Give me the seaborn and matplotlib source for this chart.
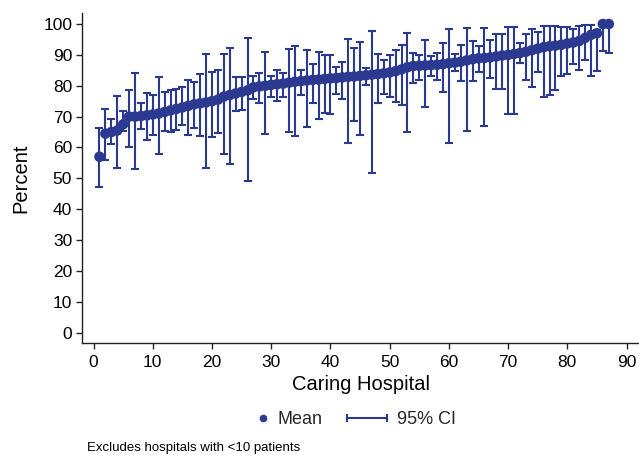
import numpy as np
import pandas as pd
import matplotlib
matplotlib.use("Agg")
import matplotlib.pyplot as plt
import seaborn as sns
from matplotlib.lines import Line2D
from matplotlib.legend_handler import HandlerLine2D

# ---------------- data ----------------
hospital = list(range(1, 88))

means = [57.0, 64.5, 65.0, 65.5, 67.5, 70.0, 70.0, 70.2, 70.4, 70.7,
         71.0, 71.5, 72.0, 72.5, 73.0, 73.5, 74.0, 74.3, 74.6, 75.0,
         75.5, 76.5, 77.0, 77.5, 78.0, 78.5, 79.5, 79.8, 80.0, 80.3,
         80.5, 80.7, 81.0, 81.3, 81.5, 81.7, 81.9, 82.0, 82.2, 82.4,
         82.5, 82.7, 82.9, 83.0, 83.2, 83.4, 83.6, 83.8, 84.0, 84.3,
         84.7, 85.3, 86.0, 86.4, 86.5, 86.6, 86.7, 86.8, 87.0, 87.3,
         87.5, 87.8, 88.2, 88.6, 88.9, 89.0, 89.2, 89.5, 89.8, 90.0,
         90.3, 90.6, 91.0, 91.5, 92.0, 92.5, 92.8, 93.0, 93.3, 93.7,
         94.0, 94.5, 95.5, 96.5, 97.0, 100.0, 100.0]

ci_lower = [47.1, 56.1, 61.0, 53.5, 65.4, 60.2, 53.0, 66.0, 62.5, 64.2,
            57.8, 65.3, 65.0, 65.6, 67.2, 64.2, 66.3, 63.7, 53.4, 63.4,
            64.8, 57.8, 54.8, 71.7, 72.0, 49.2, 75.6, 74.4, 64.3, 76.3,
            75.0, 76.3, 65.0, 63.6, 76.9, 66.7, 74.4, 69.1, 71.3, 71.0,
            77.2, 75.6, 61.3, 68.6, 64.2, 80.3, 51.6, 74.5, 77.4, 76.3,
            74.7, 73.9, 65.0, 81.0, 82.0, 73.1, 83.1, 82.0, 78.0, 61.6,
            84.7, 81.4, 65.3, 81.4, 84.4, 66.9, 82.5, 79.0, 79.0, 70.7,
            70.7, 87.4, 81.9, 79.6, 84.6, 76.5, 77.1, 78.5, 83.3, 83.9,
            87.1, 85.2, 88.5, 83.3, 84.7, 91.4, 90.5]

ci_upper = [66.3, 72.5, 69.3, 76.7, 71.8, 78.7, 84.2, 74.4, 77.6, 77.1,
            82.7, 78.0, 78.7, 79.0, 79.6, 81.9, 81.2, 83.9, 90.3, 84.4,
            85.0, 90.3, 92.1, 82.8, 82.8, 95.4, 83.3, 84.1, 90.9, 83.3,
            85.0, 84.1, 91.9, 92.8, 85.0, 91.6, 87.1, 90.9, 90.1, 90.1,
            86.0, 87.6, 95.0, 92.1, 94.3, 85.8, 97.8, 90.3, 88.5, 90.0,
            91.7, 93.2, 97.1, 90.6, 90.0, 94.9, 89.6, 90.6, 93.8, 98.4,
            90.3, 93.2, 98.6, 94.4, 93.0, 98.7, 94.9, 96.8, 96.8, 98.9,
            98.9, 93.8, 96.8, 98.4, 97.3, 99.2, 99.2, 99.2, 98.9, 98.9,
            98.4, 99.5, 99.7, 99.7, 98.1, 100.0, 100.0]

x_ticks = list(range(0, 91, 10))
y_ticks = list(range(0, 101, 10))

x_label = "Caring Hospital"
y_label = "Percent"
legend_labels = ["Mean", "95% CI"]
footnote = "Excludes hospitals with <10 patients"

df = pd.DataFrame({"hospital": hospital, "mean": means,
                   "lo": ci_lower, "hi": ci_upper})

# ---------------- style ----------------
sns.set_style("ticks")
plt.rcParams["font.family"] = ["Liberation Sans", "DejaVu Sans"]
NAVY = "#2b3990"

fig = plt.figure(figsize=(6.39, 4.55), dpi=100)
ax = fig.add_axes([82.3 / 639, (455 - 342.7) / 455,
                   (639 - 82.3) / 639, (342.7 - 13.3) / 455])

yerr = np.vstack([df["mean"] - df["lo"], df["hi"] - df["mean"]])
ax.errorbar(df["hospital"], df["mean"], yerr=yerr, fmt="none",
            ecolor=NAVY, elinewidth=1.5, capsize=3.2, capthick=1.5, zorder=2)
sns.scatterplot(data=df, x="hospital", y="mean", ax=ax, color=NAVY,
                s=58, edgecolor="none", linewidth=0, zorder=3, legend=False)

ax.set_xlim(-1.9, 92.1)
ax.set_ylim(-3.24, 103.47)
ax.set_xticks(x_ticks)
ax.set_yticks(y_ticks)
ax.tick_params(axis="both", labelsize=12.5, length=4.3, width=1.0,
               color="#222222", labelcolor="black", direction="out")
ax.tick_params(axis="x", pad=4.5)
ax.tick_params(axis="y", pad=3.0)
for side in ["top", "right"]:
    ax.spines[side].set_visible(False)
for side in ["left", "bottom"]:
    ax.spines[side].set_linewidth(1.0)
    ax.spines[side].set_color("#222222")

ax.set_xlabel(x_label, fontsize=14.5, labelpad=3.5, color="black")
ax.set_ylabel(y_label, fontsize=14.5, labelpad=9, color="black")


class DotRightHandler(HandlerLine2D):
    def get_xdata(self, legend, xdescent, ydescent, width, height, fontsize):
        target = -xdescent + width - 3.2
        return np.array([target - 1.0, target + 1.0]), np.array([target])


mean_h = Line2D([], [], linestyle="none", marker="o", color=NAVY,
                markersize=5.5, markeredgewidth=0)
ci_h = Line2D([], [], color=NAVY, linewidth=1.5, marker="|",
              markersize=6, markeredgewidth=1.5)

fig.legend([mean_h, ci_h], legend_labels, ncol=2, frameon=False,
           fontsize=13, loc="center", bbox_to_anchor=(342 / 639, (455 - 419.5) / 455),
           bbox_transform=fig.transFigure, handlelength=2.21,
           handletextpad=0.55, columnspacing=1.38, borderpad=0.2,
           handler_map={mean_h: DotRightHandler(numpoints=1),
                        ci_h: HandlerLine2D(numpoints=2, marker_pad=0)})

fig.text(86.7 / 639, (455 - 451.0) / 455, footnote, fontsize=9.5,
         ha="left", va="baseline", color="black")

fig.savefig("out.png", dpi=100)
